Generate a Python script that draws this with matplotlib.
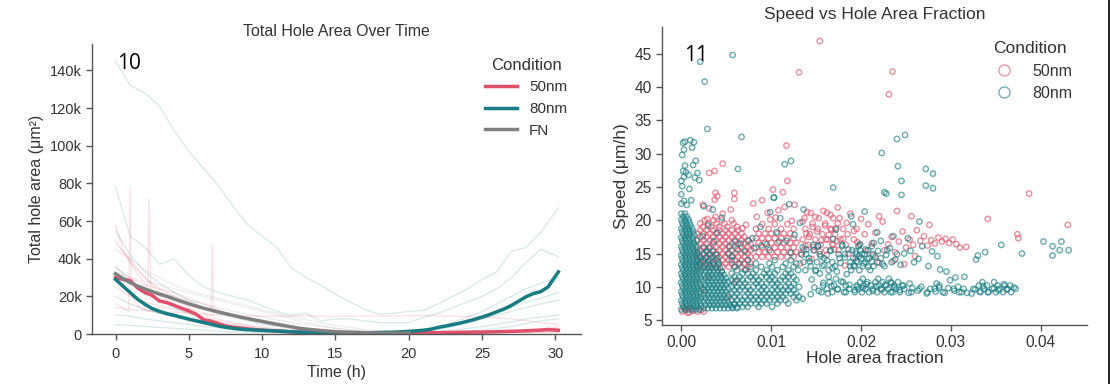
import numpy as np
import matplotlib
matplotlib.use('Agg')
import matplotlib.pyplot as plt
from matplotlib.lines import Line2D
from matplotlib.ticker import FuncFormatter

plt.rcParams['font.family'] = ['Liberation Sans', 'DejaVu Sans']
plt.rcParams['text.color'] = '#333333'
plt.rcParams['axes.labelcolor'] = '#333333'
plt.rcParams['xtick.color'] = '#333333'
plt.rcParams['ytick.color'] = '#333333'

COL = {'50nm': '#e0506a', '80nm': '#177d82', 'FN': '#808080'}

# ============================================
# PANEL 10: total hole area (k µm²) over time
# ============================================
t_mean = [0, 0.5, 1, 1.5, 2, 2.5, 3, 3.5, 4, 4.5, 5, 5.5, 6, 6.5, 7, 7.5, 8, 8.5, 9, 9.5,
          10, 10.5, 11, 11.5, 12, 12.5, 13, 13.5, 14, 14.5, 15, 15.5, 16, 16.5, 17, 17.5, 18, 18.5, 19, 19.5,
          20, 20.5, 21, 21.5, 22, 22.5, 23, 23.5, 24, 24.5, 25, 25.5, 26, 26.5, 27, 27.5, 28, 28.5, 29, 29.5,
          30.2]
mean_50 = [30, 29, 28.4, 24.5, 22, 20.5, 17.5, 16.7, 15.2, 13.7, 12.3, 10.5, 7.5, 6.8, 5.6, 4.2, 3.6, 3.2, 2.7, 2.3,
           2.0, 1.8, 1.5, 1.3, 1.1, 1.0, 0.9, 0.8, 0.7, 0.7, 0.6, 0.6, 0.6, 0.5, 0.5, 0.5, 0.5, 0.5, 0.5, 0.6,
           0.6, 0.6, 0.7, 0.7, 0.7, 0.8, 0.8, 0.9, 0.9, 1.0, 1.0, 1.1, 1.2, 1.3, 1.4, 1.5, 1.7, 1.9, 2.1, 2.4,
           2.0]
mean_80 = [29, 25.5, 22, 18.5, 15.8, 13.5, 12, 10.8, 9.9, 8.9, 7.9, 7.0, 6.1, 5.2, 4.3, 3.6, 3.0, 2.6, 2.3, 2.1,
           1.9, 1.8, 1.6, 1.4, 1.2, 1.0, 0.9, 0.8, 0.7, 0.7, 0.6, 0.6, 0.6, 0.6, 0.6, 0.7, 0.8, 0.9, 1.0, 1.2,
           1.4, 1.7, 2.0, 2.5, 3.5, 4.2, 5.0, 5.8, 6.8, 7.8, 9.0, 10.3, 11.8, 13.3, 15.2, 17.5, 19.8, 21.5, 22.5, 25,
           33]
mean_fn = [32, 29.5, 27.3, 25.5, 24, 22.5, 21.2, 20, 18.6, 17.3, 16, 14.8, 13.7, 12.7, 11.7, 10.8, 9.9, 9.0, 8.2, 7.4,
           6.7, 5.9, 5.2, 4.5, 3.8, 3.1, 2.6, 2.2, 1.8, 1.5, 1.2, 1.0, 0.9, 0.8, 0.7, 0.6, 0.5, 0.5, 0.5, 0.5,
           0.5]

# individual wells (hourly)
t_well = [0, 1, 2, 3, 4, 5, 6, 7, 8, 9, 10, 11, 12, 13, 14, 15, 16, 17, 18, 19, 20,
          21, 22, 23, 24, 25, 26, 27, 28, 29, 30.2]
wells_80 = [
    [145, 132, 128, 121, 108, 97, 88, 79, 68, 58, 52, 46, 35, 30, 26, 21, 17, 13, 10.5, 11, 12, 12.5, 16, 20, 24, 29, 33, 44, 46, 54, 67],
    [78, 52, 46, 37, 40, 31, 25, 22, 20, 18, 15, 12, 10, 11, 7, 8, 8, 7, 6, 6, 6, 9, 11, 14, 17, 20, 24, 30, 38, 45, 41],
    [55, 42, 33, 27, 22, 18, 14, 11, 9, 7, 5, 4, 3, 2.5, 2, 1.5, 1.2, 1, 1, 1, 1.2, 1.5, 2.5, 4, 6, 8, 11, 14, 17, 19, 22],
    [36, 28, 22, 18, 14, 11, 8, 6, 4.5, 3.5, 2.5, 2, 1.5, 1.2, 1, 0.8, 0.7, 0.7, 0.8, 1, 1.3, 2, 3, 4.5, 6, 8, 10, 12, 14, 16, 18],
    [10, 9.5, 8, 7, 6, 5, 4, 3.2, 2.5, 2, 1.5, 1.2, 1, 0.8, 0.6, 0.5, 0.5, 0.5, 0.5, 0.6, 0.8, 1, 1.5, 2, 3, 4, 5, 6.5, 8, 9, 10],
    [5, 4.5, 4, 3.5, 3, 2.5, 2, 1.6, 1.2, 1, 0.8, 0.6, 0.5, 0.4, 0.3, 0.3, 0.3, 0.3, 0.3, 0.3, 0.4, 0.5, 0.7, 1, 1.5, 2, 3, 4, 5.5, 7, 8],
    [20, 16, 13, 11, 9, 7, 5.5, 4.5, 3.5, 2.8, 2.2, 1.8, 1.4, 1.1, 0.9, 0.7, 0.6, 0.6, 0.7, 1, 1.5, 2.5, 4, 6, 9, 12, 16, 20, 24, 27, 30],
]
wells_50 = [
    [14, 13, 12.5, 12, 11.5, 11, 10.5, 10, 9.8, 9.6, 9.5, 9.5, 9.5, 9.6, 9.5, 9.4, 9.5, 9.6, 9.5, 9.6, 9.7, 9.8, 9.6, 9.5, 9.3, 9, 8.5, 8, 7, 6, 5],
    [35, 30, 26, 24, 22, 19, 16, 13, 10, 8, 6, 5, 4, 3, 2.5, 2, 1.5, 1.2, 1, 1, 1, 1, 1, 1.2, 1.4, 1.6, 1.8, 2, 2.2, 2.5, 3],
    [25, 20, 17, 15, 13, 11, 9, 7, 5.5, 4.5, 3.5, 2.8, 2.2, 1.8, 1.4, 1.1, 0.9, 0.8, 0.7, 0.7, 0.7, 0.7, 0.8, 0.9, 1, 1.1, 1.3, 1.5, 1.8, 2.2, 4],
    [50, 38, 30, 24, 20, 17, 14, 12, 10, 8, 6, 4.5, 3.5, 2.5, 2, 1.5, 1.2, 1, 0.8, 0.7, 0.6, 0.6, 0.6, 0.7, 0.8, 0.9, 1, 1.2, 1.5, 2, 2.5],
]
# wells with single-frame segmentation spikes
spike_t1 = [0, 0.5, 0.9, 1.0, 1.1, 1.5, 2, 3, 4, 5, 6, 7, 8, 10, 12, 15, 20, 25, 30.2]
spike_v1 = [16, 14, 12, 78, 20, 15, 13, 11, 9.5, 8, 6.5, 5, 4, 2.5, 1.5, 0.8, 0.6, 0.8, 1.2]
spike_t2 = [0, 0.5, 1, 1.5, 2, 2.2, 2.3, 2.4, 3, 4, 5, 6, 7, 8, 10, 12, 15, 20, 25, 30.2]
spike_v2 = [58, 45, 38, 32, 27, 25, 72, 24, 20, 16, 12, 9, 6, 4.5, 2.5, 1.5, 1, 0.8, 1, 1.5]
spike_t3 = [0, 1, 2, 3, 4, 5, 6, 6.5, 6.6, 6.7, 7, 8, 10, 12, 15, 20, 25, 30.2]
spike_v3 = [45, 40, 30, 22, 18, 14, 11, 9, 47, 9, 8, 6, 3, 1.5, 1, 0.7, 0.8, 1]
wells_fn = [
    [33, 30, 28, 26, 24, 22, 20, 18, 16, 14, 12, 10, 8, 6, 4.5, 3.2, 2.2, 1.5, 1, 0.8, 0.6],
    [30, 27, 24, 22, 20, 18, 16, 14, 12, 10.5, 9, 7.5, 6, 5, 4, 3, 2, 1.5, 1, 0.8, 0.6],
    [48, 40, 34, 30, 26, 23, 21, 19, 17, 15, 13, 11, 9, 7.5, 6, 4.5, 3.5, 2.5, 1.8, 1.2, 0.8],
]

# ============================================
# PANEL 11: speed vs hole area fraction (fraction x 1000)
# ============================================
# dense clusters are stored row by row: one speed per row, the hole fractions found on that row
teal_a_speed = [6.6, 7.05, 7.5, 7.95, 8.4, 8.85, 9.3, 9.75, 10.2, 10.65, 11.1, 11.55, 12.0, 12.45, 12.9,
                13.35, 13.8, 14.25, 14.7, 15.15, 15.6, 16.05, 16.5, 16.95, 17.4, 17.85, 18.3, 18.75,
                19.2, 19.65, 20.1, 20.55, 21.0]
teal_a_frac = [
    [0.0, 0.4, 0.8, 1.2, 1.6, 2.0], [0.2, 0.6, 1.0, 1.4, 1.8, 2.2], [0.1, 0.5, 0.9, 1.3, 1.7, 2.1],
    [0.0, 0.4, 0.8, 1.2, 1.6, 2.0], [0.2, 0.6, 1.0, 1.4, 1.8, 2.2], [0.1, 0.5, 0.9, 1.3, 1.7, 2.1],
    [0.0, 0.4, 0.8, 1.2, 1.6, 2.0], [0.2, 0.6, 1.0, 1.4, 1.8, 2.2], [0.1, 0.5, 0.9, 1.3, 1.7, 2.1],
    [0.0, 0.4, 0.8, 1.2, 1.6, 2.0], [0.2, 0.6, 1.0, 1.4, 1.8, 2.2], [0.1, 0.5, 0.9, 1.3, 1.7, 2.1],
    [0.0, 0.4, 0.8, 1.2, 1.6, 2.0], [0.2, 0.6, 1.0, 1.4, 1.8, 2.2], [0.1, 0.5, 0.9, 1.3, 1.7, 2.1],
    [0.0, 0.4, 0.8, 1.2, 1.6, 2.0], [0.2, 0.6, 1.0, 1.4, 1.8, 2.2], [0.1, 0.5, 0.9, 1.3, 1.7, 2.1],
    [0.0, 0.4, 0.8, 1.2, 1.6, 2.0], [0.2, 0.6, 1.0, 1.4, 1.8], [0.1, 0.5, 0.9, 1.3, 1.7],
    [0.0, 0.4, 0.8, 1.2, 1.6], [0.2, 0.6, 1.0, 1.4], [0.1, 0.5, 0.9, 1.3, 1.7],
    [0.0, 0.4, 0.8, 1.2], [0.2, 0.6, 1.0, 1.4], [0.1, 0.5, 0.9, 1.3],
    [0.0, 0.4, 0.8, 1.2], [0.2, 0.6, 1.0], [0.1, 0.5, 0.9],
    [0.0, 0.4, 0.8], [0.2, 0.6], [0.0, 0.4],
]
teal_b_speed = [6.8, 7.3, 7.8, 8.3, 8.8, 9.3, 9.8, 10.3, 10.8, 11.3, 11.8, 12.3, 12.8, 13.3, 13.8,
                14.3, 14.8, 15.3, 15.8]
teal_b_frac = [
    [2.5, 2.95, 3.4, 3.85, 4.3, 4.75, 5.2, 5.7, 6.2], [2.7, 3.15, 3.6, 4.05, 4.5, 4.95, 5.4, 5.9],
    [2.5, 2.95, 3.4, 3.85, 4.3, 4.75, 5.2], [2.7, 3.15, 3.6, 4.05, 4.5, 4.95],
    [2.5, 2.95, 3.4, 3.85, 4.3, 4.75, 5.2], [2.7, 3.15, 3.6, 4.05, 4.5, 4.95],
    [2.5, 2.95, 3.4, 3.85, 4.3, 4.75, 5.2], [2.7, 3.15, 3.6, 4.05, 4.5, 4.95],
    [2.5, 2.95, 3.4, 3.85, 4.3, 4.75, 5.2], [2.7, 3.15, 3.6, 4.05, 4.5, 4.95],
    [2.5, 2.95, 3.4, 3.85, 4.3, 4.75], [2.7, 3.15, 3.6, 4.05, 4.5],
    [2.5, 2.95, 3.4, 3.85, 4.3], [2.7, 3.15, 3.6, 4.1], [2.5, 3.0, 3.5, 4.1],
    [2.7, 3.3, 4.0], [2.5, 3.2, 3.9], [2.8, 3.5], [2.5, 3.1],
]
teal_c_speed = [7.0, 7.5, 8.0, 8.5, 9.0, 9.5, 10.0, 10.5, 11.0, 11.5, 12.0, 12.5, 13.0, 13.5, 14.0]
teal_c_frac = [
    [5.6, 6.2, 6.8, 7.4, 8.6, 10.1],
    [5.9, 6.5, 7.1, 7.7, 8.3, 8.9, 9.5, 10.7, 11.9],
    [5.6, 6.2, 6.8, 7.4, 8.0, 8.6, 9.2, 9.8, 10.4, 11.0, 11.6, 12.8],
    [5.9, 6.5, 7.1, 7.7, 8.3, 8.9, 9.5, 10.1, 10.7, 11.3, 12.5, 13.1],
    [5.6, 6.2, 7.4, 8.0, 8.6, 9.2, 9.8, 10.4, 11.0, 11.6, 12.2, 12.8],
    [5.9, 6.5, 7.1, 7.7, 8.9, 9.5, 10.1, 10.7, 11.3, 11.9, 12.5],
    [5.6, 6.2, 6.8, 7.4, 8.0, 8.6, 9.2, 10.4, 11.0, 11.6, 12.2, 13.1],
    [5.9, 6.5, 7.1, 8.3, 8.9, 9.5, 10.1, 10.7, 11.9, 12.5],
    [5.6, 6.2, 6.8, 7.4, 8.0, 8.6, 9.8, 10.4, 11.0, 11.6, 12.8],
    [5.9, 6.5, 7.7, 8.3, 8.9, 9.5, 10.1, 11.3, 11.9, 12.5],
    [5.6, 6.8, 7.4, 8.0, 9.2, 9.8, 10.4, 11.6, 12.2],
    [6.2, 7.1, 8.3, 9.5, 10.7, 11.9, 13.0],
    [5.9, 7.7, 8.9, 10.1, 11.3, 12.5],
    [6.5, 8.3, 9.8, 11.6, 12.8],
    [5.6, 7.4, 10.4, 12.2],
]
teal_d_speed = [9.2, 9.7, 10.2, 10.7, 11.2]
teal_d_frac = [
    [15.6, 16.8, 18.1, 19.3, 20.1, 20.9, 21.8, 22.6, 23.5, 24.3, 25.6, 27.4, 29.1, 31.2, 33.3, 34.1, 35.0, 35.8, 36.7],
    [16.2, 17.4, 18.7, 19.7, 20.5, 21.3, 22.2, 23.0, 23.9, 24.8, 26.5, 28.2, 30.3, 32.5, 33.7, 34.6, 35.4, 36.3, 37.2],
    [15.8, 17.0, 18.3, 19.5, 20.3, 21.1, 22.0, 22.8, 23.7, 24.6, 28.7, 33.1, 34.0, 35.2, 36.0],
    [16.5, 18.0, 19.9, 20.7, 21.6, 22.4, 23.3, 24.1, 33.5, 34.8],
    [17.2, 20.2, 21.9, 23.1],
]
teal_e_speed = [12.5, 13.1, 13.7, 14.3, 14.9, 15.5, 16.1]
teal_e_frac = [
    [13.8, 15.0, 16.4, 18.9, 19.8, 21.0],
    [14.4, 15.7, 17.1, 19.3, 20.2, 21.4, 22.6],
    [13.6, 15.1, 16.8, 18.8, 19.6, 20.5, 21.8, 23.4],
    [14.2, 15.9, 17.6, 19.1, 20.0, 20.9, 22.2],
    [13.9, 15.4, 18.2, 19.5, 20.4, 21.3, 24.0],
    [14.7, 16.6, 19.0, 19.9, 20.8, 22.9],
    [15.2, 17.9, 19.7, 21.2],
]
red_a_speed = [13.0, 13.5, 14.0, 14.5, 15.0, 15.5, 16.0, 16.5, 17.0, 17.5, 18.0, 18.5, 19.0, 19.5, 20.0]
red_a_frac = [
    [1.8, 2.5, 3.2, 3.9, 4.6, 5.3, 6.0, 6.7, 7.4], [2.1, 2.8, 3.5, 4.2, 4.9, 5.6, 6.3, 7.0, 7.7],
    [1.8, 2.5, 3.2, 3.9, 4.6, 5.3, 6.0, 6.7, 7.4], [2.1, 2.8, 3.5, 4.2, 4.9, 5.6, 6.3, 7.0, 7.7],
    [1.8, 2.5, 3.2, 3.9, 4.6, 5.3, 6.0, 6.7, 7.4], [2.1, 2.8, 3.5, 4.2, 4.9, 5.6, 6.3, 7.0, 7.7],
    [1.8, 2.5, 3.2, 3.9, 4.6, 5.3, 6.0, 6.7, 7.4], [2.1, 2.8, 3.5, 4.2, 4.9, 5.6, 6.3, 7.0, 7.7],
    [1.8, 2.5, 3.2, 3.9, 4.6, 5.3, 6.0, 6.7, 7.4], [2.1, 2.8, 3.5, 4.2, 4.9, 5.6, 6.3, 7.0],
    [1.8, 2.5, 3.2, 3.9, 4.6, 5.3, 6.0, 6.7], [2.1, 2.8, 3.5, 4.2, 4.9, 5.6, 6.3],
    [2.4, 3.3, 4.2, 5.1, 6.2], [2.1, 3.0, 3.9, 4.8, 5.8], [2.6, 3.6, 4.5, 5.6],
]
red_b_speed = [14.5, 15.2, 15.9, 16.6, 17.3, 18.0, 18.7, 19.4]
red_b_frac = [
    [8.3, 9.0, 9.7, 10.4, 11.1, 11.8, 12.5], [8.6, 9.3, 10.0, 10.7, 11.4, 12.1, 12.8],
    [8.3, 9.0, 9.7, 10.4, 11.1, 11.8, 12.5], [8.6, 9.3, 10.0, 10.7, 11.4, 12.1, 12.8],
    [8.3, 9.0, 9.7, 10.4, 11.1, 11.8, 12.5], [8.6, 9.3, 10.0, 10.7, 11.4, 12.1],
    [8.3, 9.7, 11.1, 12.5], [9.0, 10.4, 11.8],
]
red_c_speed = [15.5, 16.3, 17.1, 17.9, 18.7, 19.5, 20.3, 21.1]
red_c_frac = [
    [13.6, 14.8, 16.1, 17.5],
    [14.1, 15.5, 16.9, 18.3, 19.8],
    [13.5, 14.9, 16.3, 17.7, 19.2],
    [14.3, 15.7, 17.1, 18.5],
    [13.8, 15.2, 16.6, 18.0, 19.5],
    [14.6, 16.0, 17.4],
    [13.7, 15.3, 16.9],
    [14.4, 16.2],
]
# scattered cells
teal_frac = [
    5.2, 5.4, 5.7, 6.2, 6.6, 7.1, 7.5, 8.1, 8.9, 9.8, 10.9, 12.2, 13.5, 14.7,
    14.4, 14.8, 14.5, 14.9, 14.3, 13.4, 13.9, 13.5,
    6.0, 7.9, 9.5, 10.6, 11.7, 12.6, 13.2, 8.8, 11.0, 9.9, 13.6, 12.0, 10.3,
    15.3, 15.8, 15.4, 15.9, 15.5, 15.2,
    16.3, 16.7, 16.4, 16.8, 16.2, 16.6, 16.9,
    17.4, 17.8, 17.3, 17.7, 17.5, 17.9, 17.2,
    18.3, 18.7, 18.4, 18.8, 18.2, 18.6, 18.9,
    19.3, 19.6, 19.2, 19.5, 19.8, 19.4, 19.9, 19.1,
    20.2, 20.6, 20.3, 20.7, 20.1, 20.5, 20.8, 20.4,
    21.3, 21.7, 21.2, 21.6, 21.9, 21.4, 21.8,
    22.3, 22.7, 22.4, 22.8, 22.2, 22.6, 22.3, 22.8,
    23.3, 23.7, 23.4, 23.8, 23.2, 23.6, 24.0, 24.1, 24.5, 24.5, 24.9,
    24.3, 24.7, 24.4, 24.8,
    25.3, 25.7, 25.4, 25.9, 25.5, 25.2,
    26.3, 26.7, 26.4, 26.8, 26.5,
    27.2, 27.2, 28.0, 28.0,
    27.3, 27.7, 27.5, 27.9,
    28.3, 28.7, 28.4, 28.8, 28.5,
    29.3, 29.7, 29.5, 29.9,
    30.4, 30.8, 30.5, 30.9,
    31.4, 31.8, 31.5, 32.3, 32.7, 32.8, 33.0, 33.8, 33.2, 33.6, 34.2,
    34.8, 35.3, 35.6, 35.9, 36.2, 36.6, 37.0, 37.9,
    40.3, 41.3, 42.3, 42.1, 43.1, 41.3,
    0.0, 0.1, 0.0, 0.3, 0.5, 0.2, 0.4, 0.1, 0.3, 0.2, 0.4, 0.0, 0.6, 1.0, 1.4, 1.2, 1.6, 1.3, 1.8,
    2.0, 1.5, 0.8, 0.9, 1.1, 0.3, 2.1, 2.6, 2.9, 5.7, 6.7, 6.3, 11.5, 12.2, 16.9, 10.3,
    2.5, 3.5, 4.5, 3.0, 4.0, 2.4, 3.6,
]
teal_speed = [
    15.0, 16.1, 14.6, 15.7, 16.5, 15.3, 16.9, 15.8, 16.2, 15.5, 16.8, 15.1, 15.9, 16.3,
    8.9, 9.9, 11.1, 12.4, 13.8, 14.8, 15.6, 8.2,
    16.8, 17.3, 16.4, 18.2, 16.9, 17.8, 19.6, 19.0, 20.3, 21.2, 21.6, 22.4, 23.4,
    9.4, 10.6, 12.0, 13.3, 14.6, 16.2,
    9.0, 10.1, 11.5, 12.8, 14.0, 15.4, 17.2,
    9.6, 10.8, 12.3, 13.6, 14.9, 16.3, 18.6,
    9.2, 10.3, 11.9, 13.1, 14.4, 15.6, 20.6,
    9.5, 10.0, 13.2, 13.9, 14.6, 15.3, 16.4, 19.4,
    9.8, 10.4, 13.5, 14.2, 14.9, 15.6, 13.0, 21.3,
    9.4, 10.1, 13.8, 14.5, 15.4, 16.6, 18.2,
    9.6, 10.3, 13.4, 14.8, 16.9, 24.2, 30.1, 24.0,
    9.2, 9.9, 10.6, 14.1, 15.8, 17.6, 32.2, 28.1, 25.9, 23.8, 32.8,
    9.5, 10.2, 13.3, 15.0,
    9.1, 9.8, 10.5, 13.7, 15.4, 17.3,
    9.4, 10.0, 14.2, 16.1, 19.8,
    27.7, 25.2, 27.0, 24.8,
    9.0, 9.7, 13.1, 15.3,
    9.3, 9.9, 10.5, 12.6, 14.6,
    9.1, 9.8, 12.3, 11.0,
    9.4, 10.0, 11.4, 9.2,
    9.7, 9.1, 11.5, 9.0, 9.6, 14.1, 14.7, 15.2, 9.3, 10.1, 9.2,
    9.8, 9.5, 16.3, 10.4, 9.6, 10.2, 9.9, 15.0,
    16.8, 16.1, 16.8, 15.5, 15.5, 14.7,
    23.9, 25.1, 25.9, 26.5, 27.2, 27.4, 28.2, 29.8, 30.6, 31.6, 31.8, 22.5, 22.3, 32.0, 31.7, 30.9, 28.9, 28.3, 27.1,
    26.0, 26.4, 26.8, 24.7, 23.0, 22.9, 43.8, 40.8, 33.7, 44.8, 32.5, 27.7, 28.4, 28.9, 24.9, 23.4,
    22.1, 21.6, 20.4, 19.2, 18.1, 17.6, 16.8,
]
red_frac = [
    0.1, 0.5, 0.9, 1.3, 1.8, 2.2, 0.3, 1.1, 2.5, 0.7,
    2.9, 3.8, 4.6, 5.5, 3.1, 2.4, 3.7, 4.0, 5.9, 7.2, 6.8,
    4.6, 3.7, 3.1, 3.8, 5.9,
    3.0, 4.5, 6.0, 7.2, 2.5, 5.2,
    8.4, 9.6, 10.8, 11.5, 12.6, 10.2, 11.3, 11.7, 11.8, 13.1, 8.0, 9.0, 9.9, 10.5, 12.3,
    13.3, 13.8, 14.2, 14.7, 15.1, 15.6, 16.0, 16.4, 16.8, 17.2, 17.6, 18.0, 18.4, 18.8, 19.2, 19.6, 20.0, 20.4, 20.8, 21.2, 21.6, 22.0,
    13.5, 14.0, 14.9, 15.8, 16.6, 17.4, 13.2, 14.5, 15.4, 16.2, 17.0, 18.6, 19.4, 20.6, 21.4,
    15.4, 22.0, 18.2, 16.1, 16.7, 17.3, 13.9, 14.6,
    22.6, 23.5, 23.1, 23.0, 23.4, 23.8, 24.2, 24.6, 25.0, 25.4, 25.8, 26.2, 26.6, 27.0, 27.4, 27.8, 28.2, 28.6,
    29.0, 29.4, 29.8, 30.2, 30.6, 31.0, 31.7, 23.6, 24.8, 26.0, 22.4, 25.6, 24.0, 27.6,
    34.1, 37.4, 37.5, 38.7, 43.0,
]
red_speed = [
    6.3, 6.5, 6.2, 6.4, 6.3, 6.5, 6.9, 6.8, 6.3, 6.1,
    20.2, 20.5, 21.0, 21.6, 21.8, 22.3, 23.1, 23.6, 23.2, 19.3, 18.8,
    28.5, 27.4, 27.1, 24.1, 24.1,
    11.5, 12.2, 10.8, 12.6, 9.5, 8.4,
    20.5, 21.1, 21.5, 22.0, 22.3, 24.6, 24.2, 31.2, 25.9, 42.2, 22.5, 23.0, 20.1, 20.4, 19.9,
    15.0, 16.2, 17.5, 16.0, 18.3, 17.0, 19.2, 17.8, 16.4, 18.8, 20.3, 17.2, 19.6, 21.0, 18.4, 16.7, 20.2, 17.9, 19.4, 16.5, 18.1, 20.6,
    19.8, 21.2, 20.5, 21.4, 20.8, 21.9, 13.5, 14.2, 15.3, 14.8, 15.6, 15.0, 14.3, 15.4, 14.7,
    46.9, 13.6, 13.2, 17.1, 18.6, 16.9, 18.0, 19.0,
    15.5, 42.3, 38.9, 16.4, 17.5, 15.2, 16.8, 18.3, 15.9, 17.1, 16.3, 18.5, 16.9, 17.6, 16.2, 17.0, 16.5, 17.4,
    16.8, 17.2, 16.6, 17.1, 16.4, 15.9, 16.0, 13.9, 13.4, 14.6, 19.8, 20.6, 21.4, 19.3,
    20.2, 17.9, 17.3, 24.0, 19.3,
]


def add_rows(frac, speed, rows_speed, rows_frac):
    # unpack a row-wise cluster into the flat series
    for sp, fr in zip(rows_speed, rows_frac):
        frac += fr
        speed += [sp] * len(fr)


add_rows(teal_frac, teal_speed, teal_a_speed, teal_a_frac)
add_rows(teal_frac, teal_speed, teal_b_speed, teal_b_frac)
add_rows(teal_frac, teal_speed, teal_c_speed, teal_c_frac)
add_rows(teal_frac, teal_speed, teal_d_speed, teal_d_frac)
add_rows(teal_frac, teal_speed, teal_e_speed, teal_e_frac)
add_rows(red_frac, red_speed, red_a_speed, red_a_frac)
add_rows(red_frac, red_speed, red_b_speed, red_b_frac)
add_rows(red_frac, red_speed, red_c_speed, red_c_frac)

fig = plt.figure(figsize=(11.13, 3.84), dpi=100)


def style(ax):
    for s in ['top', 'right']:
        ax.spines[s].set_visible(False)
    for s in ['left', 'bottom']:
        ax.spines[s].set_color('#555555')
        ax.spines[s].set_linewidth(1.0)
    ax.tick_params(color='#555555', length=4, width=1)


# --- left panel
ax1 = fig.add_axes([0.0827, 0.1302, 0.4394, 0.7552])
for w in wells_80:
    ax1.plot(t_well, np.array(w) * 1000, color=COL['80nm'], alpha=0.16, lw=1)
for w in wells_50:
    ax1.plot(t_well, np.array(w) * 1000, color=COL['50nm'], alpha=0.16, lw=1)
for tt, vv in [(spike_t1, spike_v1), (spike_t2, spike_v2), (spike_t3, spike_v3)]:
    ax1.plot(tt, np.array(vv) * 1000, color=COL['50nm'], alpha=0.16, lw=1)
for w in wells_fn:
    ax1.plot(t_well[:len(w)], np.array(w) * 1000, color=COL['FN'], alpha=0.13, lw=1)

ax1.plot(t_mean, np.array(mean_50) * 1000, color=COL['50nm'], lw=2.5, label='50nm')
ax1.plot(t_mean, np.array(mean_80) * 1000, color=COL['80nm'], lw=2.5, label='80nm')
ax1.plot(t_mean[:len(mean_fn)], np.array(mean_fn) * 1000, color=COL['FN'], lw=2.5, label='FN')

ax1.set_xlim(-1.6, 31.75)
ax1.set_ylim(0, 154000)
ax1.set_xticks([0, 5, 10, 15, 20, 25, 30])
ax1.set_yticks(np.arange(0, 140001, 20000))
ax1.yaxis.set_major_formatter(FuncFormatter(lambda v, p: '0' if v == 0 else f'{int(v/1000)}k'))
style(ax1)
ax1.tick_params(labelsize=10.5)
ax1.tick_params(axis='x', pad=5)
ax1.set_title('Total Hole Area Over Time', fontsize=11.5)
ax1.set_xlabel('Time (h)', fontsize=11.5, labelpad=3)
ax1.set_ylabel('Total hole area (μm²)', fontsize=11.5)
ax1.legend(title='Condition', frameon=False, loc='upper right', fontsize=11,
           title_fontsize=12, handlelength=2.1, labelspacing=0.5, bbox_to_anchor=(1.0, 1.0))

# --- right panel
ax2 = fig.add_axes([0.5948, 0.1536, 0.3819, 0.776])
ax2.scatter(np.array(red_frac) / 1000, red_speed, s=15, facecolors='none',
            edgecolors=COL['50nm'], linewidths=1.0, alpha=0.65, label='50nm')
ax2.scatter(np.array(teal_frac) / 1000, teal_speed, s=15, facecolors='none',
            edgecolors=COL['80nm'], linewidths=1.0, alpha=0.65, label='80nm')
ax2.set_xlim(-0.00215, 0.04515)
ax2.set_ylim(4.27, 49.0)
ax2.set_xticks([0, 0.01, 0.02, 0.03, 0.04])
ax2.xaxis.set_major_formatter(FuncFormatter(lambda v, p: f'{v:.2f}'))
ax2.set_yticks(np.arange(5, 46, 5))
style(ax2)
ax2.tick_params(labelsize=11.2)
ax2.set_title('Speed vs Hole Area Fraction', fontsize=12.5)
ax2.set_xlabel('Hole area fraction', fontsize=12.5, labelpad=0.5)
ax2.set_ylabel('Speed (μm/h)', fontsize=12.5)
handles = [Line2D([], [], marker='o', ls='', mfc='none', mec=COL[c], alpha=0.6, ms=8, mew=1) for c in ['50nm', '80nm']]
ax2.legend(handles, ['50nm', '80nm'], title='Condition', frameon=False, loc='upper right',
           fontsize=11.5, title_fontsize=12.5, labelspacing=0.45, bbox_to_anchor=(1.0, 1.0))

# panel numbers
fig.text(117 / 1113, 1 - 69 / 384, '10', fontsize=15, color='black', family=['Open Sans', 'DejaVu Sans'])
fig.text(684 / 1113, 1 - 61 / 384, '11', fontsize=15, color='black', family=['Open Sans', 'DejaVu Sans'])
# border at right edge
fig.add_artist(Line2D([0.9965, 0.9965], [0, 1], color='black', lw=1.2, transform=fig.transFigure))

plt.savefig('out.png', dpi=100)
plt.close()
